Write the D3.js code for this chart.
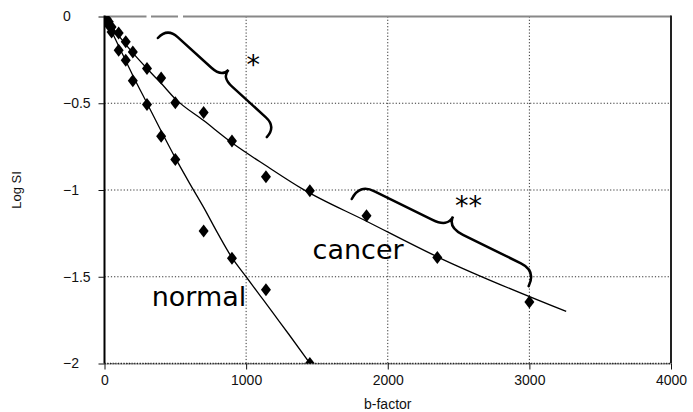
<!DOCTYPE html>
<html>
<head>
<meta charset="utf-8">
<script src="https://cdn.jsdelivr.net/npm/d3@7"></script>
<style>
  body { margin: 0; background: #fff; }
  svg { display: block; }
</style>
</head>
<body>
<div id="chart"></div>
<script>
// measured points (b-factor vs log signal intensity)
const bFactor = [0, 15, 30, 50, 100, 150, 200, 300, 400, 500, 700, 900, 1140, 1450, 1850, 2350, 3000];
const cancerLogSI = [0, -0.015, -0.03, -0.06, -0.095, -0.145, -0.205, -0.30, -0.355, -0.497, -0.553, -0.718, -0.924, -1.004, -1.148, -1.389, -1.645];
const normalLogSI = [0, -0.025, -0.05, -0.09, -0.195, -0.252, -0.37, -0.507, -0.69, -0.824, -1.236, -1.393, -1.575, -2.0];

// fitted curves
const cancerFitB = [0, 100, 200, 300, 400, 500, 700, 900, 1150, 1400, 1850, 2350, 3260];
const cancerFitY = [0, -0.11, -0.21, -0.3, -0.385, -0.475, -0.6, -0.728, -0.865, -0.995, -1.18, -1.385, -1.70];
const normalFitB = [0, 100, 200, 300, 400, 500, 600, 700, 800, 900, 1000, 1100, 1200, 1300, 1460];
const normalFitY = [0, -0.17, -0.34, -0.5, -0.66, -0.815, -0.96, -1.1, -1.25, -1.39, -1.5, -1.61, -1.72, -1.83, -2.01];

const xTicks = [0, 1000, 2000, 3000, 4000];
const yTicks = [0, -0.5, -1, -1.5, -2];

const width = 693, height = 412;
const margin = { top: 16.5, right: 22, bottom: 48.5, left: 104.5 };
const tickFont = '"Liberation Sans", Arial, sans-serif';

const svg = d3.select('#chart').append('svg')
  .attr('width', width)
  .attr('height', height);

const x = d3.scaleLinear().domain([0, 4000]).range([margin.left, width - margin.right]);
const y = d3.scaleLinear().domain([-2, 0]).range([height - margin.bottom, margin.top]);

const x0 = x(0), x1 = x(4000), y0 = y(0), y1 = y(-2);

svg.append('clipPath').attr('id', 'plot-clip')
  .append('rect')
  .attr('x', x0).attr('y', y0)
  .attr('width', x1 - x0).attr('height', y1 - y0);

// dotted grid
svg.append('g')
  .selectAll('line')
  .data(xTicks.slice(1, -1))
  .join('line')
  .attr('x1', d => x(d)).attr('x2', d => x(d))
  .attr('y1', y0).attr('y2', y1)
  .attr('stroke', '#333')
  .attr('stroke-width', 1)
  .attr('stroke-dasharray', '1.2,2');

svg.append('g')
  .selectAll('line')
  .data(yTicks.slice(1))
  .join('line')
  .attr('x1', x0).attr('x2', x1)
  .attr('y1', d => y(d)).attr('y2', d => y(d))
  .attr('stroke', '#333')
  .attr('stroke-width', 1)
  .attr('stroke-dasharray', '1.2,2');

// frame
svg.append('line')
  .attr('x1', x0).attr('x2', x1).attr('y1', y0).attr('y2', y0)
  .attr('stroke', '#888').attr('stroke-width', 2);
svg.append('line')
  .attr('x1', x1).attr('x2', x1).attr('y1', y0 - 1).attr('y2', y1)
  .attr('stroke', '#222').attr('stroke-width', 2);
svg.append('line')
  .attr('x1', x0).attr('x2', x1).attr('y1', y1 + 0.5).attr('y2', y1 + 0.5)
  .attr('stroke', '#999').attr('stroke-width', 1);

// small white breaks in the top border
[[146.5, 151], [178, 183]].forEach(([a, b]) => {
  svg.append('rect').attr('x', a).attr('y', y0 - 2).attr('width', b - a).attr('height', 4).attr('fill', '#fff');
});

// axes
const yAxis = svg.append('g')
  .attr('transform', `translate(${x0},0)`)
  .call(d3.axisLeft(y).tickValues(yTicks).tickSize(6).tickFormat(d3.format('')));
const xAxis = svg.append('g')
  .attr('transform', `translate(0,${y1})`)
  .call(d3.axisBottom(x).tickValues(xTicks).tickSize(6).tickPadding(6).tickFormat(d3.format('')));

// y tick labels are left aligned in the original
yAxis.selectAll('text')
  .attr('text-anchor', 'start')
  .attr('x', 63 - x0);

[yAxis, xAxis].forEach(g => {
  g.selectAll('text')
    .attr('font-family', tickFont)
    .attr('font-size', 14)
    .attr('fill', '#111');
  g.selectAll('line').attr('stroke', '#111');
});
yAxis.select('.domain').attr('stroke', '#000').attr('stroke-width', 2)
  .attr('d', `M0,${y0 - 1}V${y1}`);
xAxis.select('.domain').attr('stroke', '#222').attr('stroke-width', 1.5)
  .attr('stroke-dasharray', '1.2,1.5')
  .attr('d', `M${x0},0H${x1}`);

// axis titles
svg.append('text')
  .attr('x', (x0 + x1) / 2)
  .attr('y', 409)
  .attr('text-anchor', 'middle')
  .attr('font-family', tickFont)
  .attr('font-size', 14)
  .attr('fill', '#111')
  .text('b-factor');

svg.append('text')
  .attr('transform', `translate(21,${(y0 + y1) / 2}) rotate(-90)`)
  .attr('text-anchor', 'middle')
  .attr('font-family', tickFont)
  .attr('font-size', 13)
  .attr('fill', '#111')
  .text('Log SI');

// plot content
const plot = svg.append('g').attr('clip-path', 'url(#plot-clip)');

const line = d3.line()
  .x(d => x(d[0]))
  .y(d => y(d[1]))
  .curve(d3.curveMonotoneX);

plot.append('path')
  .datum(normalFitB.map((b, i) => [b, normalFitY[i]]))
  .attr('d', line)
  .attr('fill', 'none')
  .attr('stroke', '#000')
  .attr('stroke-width', 1.3);

plot.append('path')
  .datum(cancerFitB.map((b, i) => [b, cancerFitY[i]]))
  .attr('d', line)
  .attr('fill', 'none')
  .attr('stroke', '#000')
  .attr('stroke-width', 1.3);

const diamond = 'M0,-6.5L5,0L0,6.5L-5,0Z';
const points = [
  ...cancerLogSI.map((v, i) => [bFactor[i], v]),
  ...normalLogSI.map((v, i) => [bFactor[i], v])
];
plot.selectAll('.pt')
  .data(points)
  .join('path')
  .attr('class', 'pt')
  .attr('d', diamond)
  .attr('transform', d => `translate(${x(d[0])},${y(d[1])})`)
  .attr('fill', '#000');

// labels
const bigFont = '"DejaVu Sans", Verdana, sans-serif';
svg.append('text')
  .attr('x', x(333)).attr('y', y(-1.67))
  .attr('font-family', bigFont).attr('font-size', 27).attr('fill', '#000')
  .text('normal');
svg.append('text')
  .attr('x', x(1469)).attr('y', y(-1.398))
  .attr('font-family', bigFont).attr('font-size', 27).attr('fill', '#000')
  .text('cancer');
svg.append('text')
  .attr('x', x(1050)).attr('y', y(-0.332))
  .attr('text-anchor', 'middle')
  .attr('font-family', bigFont).attr('font-size', 27).attr('fill', '#000')
  .text('*');
svg.append('text')
  .attr('x', x(2570)).attr('y', y(-1.145))
  .attr('text-anchor', 'middle')
  .attr('font-family', bigFont).attr('font-size', 27).attr('fill', '#000')
  .text('**');

// curly braces: endpoints in data units, width and tip in px
const braces = [
  { from: [377, -0.124], to: [1146, -0.695], w: 14, tip: 10 },
  { from: [1746, -1.052], to: [2995, -1.554], w: 17, tip: 12 }
];

function bracePath(b) {
  const ax = x(b.from[0]), ay = y(b.from[1]);
  const bx = x(b.to[0]), by = y(b.to[1]);
  const L = Math.hypot(bx - ax, by - ay);
  const ux = (bx - ax) / L, uy = (by - ay) / L;
  const nx = uy, ny = -ux;
  const P = (t, s) => `${ax + ux * t + nx * s},${ay + uy * t + ny * s}`;
  const w = b.w, q = b.w, m = L / 2;
  return `M${P(0, 0)}Q${P(0, w)} ${P(q, w)}L${P(m - q, w)}Q${P(m, w)} ${P(m, w + b.tip)}` +
    `Q${P(m, w)} ${P(m + q, w)}L${P(L - q, w)}Q${P(L, w)} ${P(L, 0)}`;
}

svg.selectAll('.brace')
  .data(braces)
  .join('path')
  .attr('class', 'brace')
  .attr('d', bracePath)
  .attr('fill', 'none')
  .attr('stroke', '#000')
  .attr('stroke-width', 2.5)
  .attr('stroke-linecap', 'round');
</script>
</body>
</html>
